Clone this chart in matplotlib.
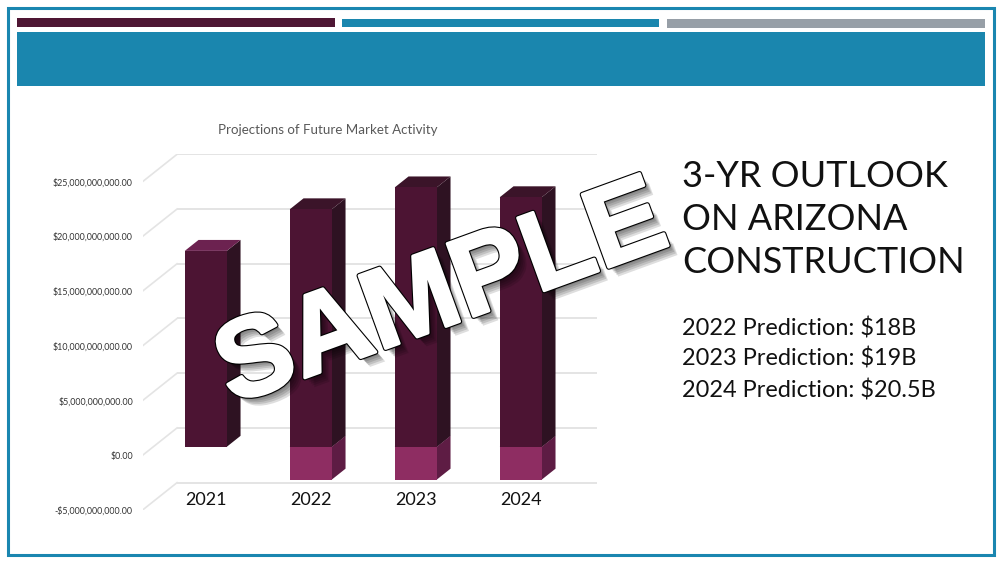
import matplotlib
matplotlib.use("Agg")
import matplotlib.pyplot as plt
from matplotlib.patches import Rectangle, Polygon
from matplotlib.ticker import FuncFormatter
import matplotlib.patheffects as pe

# ---------------- data ----------------
years = ["2021", "2022", "2023", "2024"]
positive_bn = [17.9, 21.7, 23.7, 22.8]     # dark series (billions $)
negative_bn = [0.0, -3.0, -3.0, -3.0]      # pink series (billions $)
y_ticks_bn = [-5, 0, 5, 10, 15, 20, 25]
chart_title = "Projections of Future Market Activity"
heading_lines = ["3-YR OUTLOOK", "ON ARIZONA", "CONSTRUCTION"]
prediction_lines = ["2022 Prediction: $18B", "2023 Prediction: $19B", "2024 Prediction: $20.5B"]
watermark = "SAMPLE"

# ---------------- style ----------------
W, H = 1000, 564
FONT = "Lato"
DX, DY = 0.328, 2.5          # full depth offset of the 3-D box (data units)
D0, DD = 0.31, 0.40          # bar front depth and bar depth (fractions)
BAR_W = 0.40
DARK = dict(front="#4c1433", side="#2e1222", top="#3b1429")
PINK = dict(front="#8e2d62", side="#5e1c44", top="#6c2250")
GRID = "#e4e4e4"

fig = plt.figure(figsize=(W / 100, H / 100), dpi=100)
fig.patch.set_facecolor("white")

def fx(px):
    return px / W

def fy(py):
    return 1 - py / H

def frect(x0, y0, x1, y1, **kw):
    fig.patches.append(Rectangle((fx(x0), fy(y1)), fx(x1) - fx(x0), fy(y0) - fy(y1),
                                 transform=fig.transFigure, figure=fig, **kw))

# slide frame and header
frect(8, 8, 994, 555, facecolor="none", edgecolor="#1a86b0", linewidth=2.2)
frect(17, 18, 335, 26.5, facecolor="#4e1634", edgecolor="none")
frect(342, 19, 659, 26.5, facecolor="#1a86ae", edgecolor="none")
frect(667, 19.5, 985, 28, facecolor="#979fa7", edgecolor="none")
frect(17, 32, 985, 86, facecolor="#1a86ae", edgecolor="none")

# ---------------- chart ----------------
ax = fig.add_axes([0.1426, 1 - 510 / H, 0.4544, 355.7 / H])
n = len(years)
ax.set_xlim(-0.5, n - 0.5 + DX)
ax.set_ylim(y_ticks_bn[0], y_ticks_bn[-1] + DY)
for s in ax.spines.values():
    s.set_visible(False)
ax.set_facecolor("none")

# gridlines: back wall + left wall diagonals
for v in y_ticks_bn:
    ax.plot([-0.5 + DX, n - 0.5 + DX], [v + DY, v + DY], color=GRID, lw=1.4, zorder=1,
            solid_capstyle="butt")
    ax.plot([-0.5, -0.5 + DX], [v, v + DY], color=GRID, lw=1.2, zorder=1)

ax.set_yticks(y_ticks_bn)
ax.yaxis.set_major_formatter(FuncFormatter(
    lambda v, p: ("-" if v < 0 else "") + "${:,.2f}".format(abs(v) * 1e9)))
ax.tick_params(axis="y", length=0, pad=7, labelsize=6.4, labelcolor="#333333")
for lab in ax.get_yticklabels():
    lab.set_fontfamily(FONT)
ax.set_xticks([])

ox, oy = D0 * DX, D0 * DY
sx, sy = DD * DX, DD * DY
xs = [i + ox for i in range(n)]

def box(xc, base, val, col, top_col, z):
    lo, hi = sorted([base, base + val])
    xl, xr = xc - BAR_W / 2, xc + BAR_W / 2
    ax.add_patch(Polygon([(xr, lo + oy), (xr + sx, lo + oy + sy), (xr + sx, hi + oy + sy),
                          (xr, hi + oy)], closed=True, facecolor=col["side"],
                         edgecolor="none", zorder=z))
    ax.add_patch(Polygon([(xl, hi + oy), (xl + sx, hi + oy + sy), (xr + sx, hi + oy + sy),
                          (xr, hi + oy)], closed=True, facecolor=top_col,
                         edgecolor="none", zorder=z))

for i in range(n):
    # pink (negative) segment
    if negative_bn[i] != 0:
        box(xs[i], 0, negative_bn[i], PINK, PINK["top"], 2)
    # dark segment; a zero pink value shows its flat top on the stack
    top_col = PINK["top"] if negative_bn[i] == 0 else DARK["top"]
    box(xs[i], 0, positive_bn[i], DARK, top_col, 3)

ax.bar(xs, negative_bn, bottom=oy, width=BAR_W, color=PINK["front"], zorder=2.5, linewidth=0)
ax.bar(xs, positive_bn, bottom=oy, width=BAR_W, color=DARK["front"], zorder=3.5, linewidth=0)

for i in range(n):
    ax.text(xs[i], y_ticks_bn[0] + 0.9, years[i], ha="center", va="center",
            fontsize=13, family=FONT, color="#111111", zorder=5)

fig.text(fx(328), fy(130), chart_title, ha="center", va="center", fontsize=9.6,
         family=FONT, color="#595959")

# ---------------- right-hand text ----------------
for k, line in enumerate(heading_lines):
    fig.text(fx(682), fy(187 + 43 * k), line, ha="left", va="baseline", fontsize=26,
             family=FONT, color="#111111")
for k, line in enumerate(prediction_lines):
    fig.text(fx(682), fy(335 + 31 * k), line, ha="left", va="baseline", fontsize=16.9,
             family=FONT, color="#111111")

# ---------------- watermark ----------------
shadow = [pe.SimplePatchShadow(offset=(2 + 1.2 * j, -2 - 1.2 * j), shadow_rgbFace="black",
                               alpha=0.13) for j in range(5)]
fig.text(fx(442), fy(297), watermark, ha="center", va="center", rotation=20,
         rotation_mode="anchor", fontsize=81, fontweight="bold",
         family="Liberation Sans", color="white", zorder=10,
         path_effects=shadow + [pe.Stroke(linewidth=3.8, foreground="black"),
                                pe.Stroke(linewidth=2.2, foreground="white"),
                                pe.Normal()])

fig.savefig("out.png", dpi=100)
